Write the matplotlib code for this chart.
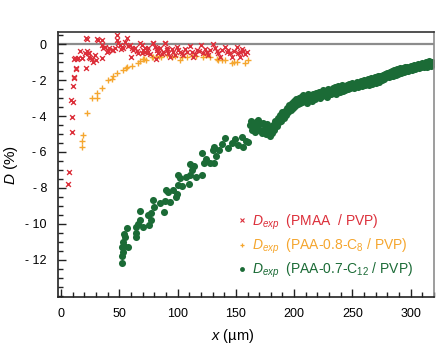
import matplotlib
matplotlib.use('Agg')
import matplotlib.pyplot as plt
from matplotlib.ticker import MultipleLocator
from matplotlib.lines import Line2D

plt.rcParams['font.family'] = ['Liberation Sans', 'DejaVu Sans']
plt.rcParams['mathtext.fontset'] = 'custom'
plt.rcParams['mathtext.it'] = 'Liberation Sans:italic'
plt.rcParams['mathtext.rm'] = 'Liberation Sans'

# ---- data ----
red_x = [6.3, 6.9, 8.6, 9.7, 9.7, 10.3, 10.6, 11.2, 11.5, 11.2, 12.0, 12.6, 13.2, 13.5, 14.9, 16.3,
         17.8, 18.3, 20.6, 21.2, 21.5, 22.0, 22.6, 23.4, 24.3, 24.3, 24.9, 26.3, 27.7, 29.2, 29.8,
         31.2, 32.0, 34.9, 34.9, 35.5, 36.3, 37.8, 39.2, 40.6, 41.5, 43.5, 44.9, 46.0, 47.8, 48.3,
         49.2, 50.6, 51.5, 52.1, 53.5, 54.8, 56.4, 57.5, 59.2, 59.8, 60.7, 62.1, 63.5, 65.0, 66.2,
         67.8, 69.3, 69.3, 70.6, 72.1, 72.1, 73.6, 73.6, 74.9, 76.4, 78.7, 79.2, 80.7, 81.5, 82.1,
         82.1, 83.5, 83.5, 85.0, 86.4, 87.8, 89.3, 89.3, 90.7, 90.7, 92.1, 93.6, 95.0, 96.4, 97.8,
         99.3, 100.5, 102.1, 103.6, 105.0, 106.5, 108.0, 110.7, 112.2, 113.6, 115.0, 116.5, 118.3,
         120.2, 122.1, 123.5, 125.0, 126.4, 128.0, 130.7, 132.2, 133.5, 135.0, 136.5, 138.0, 140.8,
         142.0, 143.6, 145.1, 146.5, 148.0, 150.8, 152.2, 153.6, 153.6, 155.1, 156.5, 158.0, 159.5]
red_y = [-7.8, -7.1, -3.1, -4.87, -4.04, -2.33, -3.2, -1.85, -1.9, -0.85, -0.8, -1.35, -1.4, -0.81, -0.8, -0.37,
         -0.76, -0.8, -0.52, -1.35, 0.32, 0.28, -0.37, -0.52, -0.52, -0.7, -0.8, -0.83, -1.0, -0.61, -0.89,
         0.26, 0.24, 0.22, -0.8, -0.06, -0.24, -0.15, -0.43, -0.37, -0.2, -0.33, -0.33, -0.2, 0.48, 0.22,
         0.04, -0.06, -0.3, -0.15, -0.24, 0.1, 0.32, -0.1, -0.06, -0.74, -0.24, -0.33, -0.24, -0.4, -0.5,
         0.04, -0.48, -0.06, -0.33, -0.43, -0.2, -0.33, -0.52, -0.24, -0.56, 0.07, 0.07, -0.15, -0.85, -0.33,
         -0.24, -0.48, -0.52, -0.24, -0.56, -0.43, 0.04, 0.07, -0.24, -0.33, -0.52, -0.7, -0.3, -0.43, -0.6,
         -0.15, -0.35, -0.43, -0.52, -0.61, -0.3, -0.45, -0.11, -0.43, -0.7, -0.55, -0.33, -0.4,
         -0.06, -0.52, -0.3, -0.43, -0.61, -0.35, 0.0, -0.24, -0.4, -0.52, -0.7, -0.35, -0.15,
         -0.45, -0.33, -0.52, -0.7, -0.4, -0.15, -0.52, -0.43, -0.7, -0.29, -0.37, -0.55, -0.45]

orange_x = [17.8, 17.8, 18.6, 22.1, 26.4, 30.6, 30.6, 35.5, 40.6, 43.5, 44.3, 48.3, 53.5, 55.8, 56.9,
            60.7, 65.8, 67.8, 70.6, 71.2, 73.0, 77.9, 79.2, 81.5, 84.4, 86.0, 90.7, 95.0, 98.0, 102.1,
            103.6, 108.0, 112.2, 116.0, 122.1, 124.0, 128.0, 133.6, 135.0, 138.0, 140.8, 146.5, 148.0,
            150.8, 157.9, 160.8]
orange_y = [-5.74, -5.37, -5.06, -3.82, -3.02, -3.02, -2.74, -2.46, -2.0, -1.96, -1.78, -1.63, -1.44, -1.35, -1.26,
            -1.22, -1.04, -0.93, -0.85, -0.85, -0.89, -0.7, -0.74, -0.74, -0.67, -0.7, -0.61, -0.72, -0.68, -0.89,
            -0.74, -0.7, -0.67, -0.68, -0.7, -0.6, -0.72, -0.85, -0.89, -0.88, -0.89, -1.04, -1.0,
            -0.98, -1.04, -0.89]

green_x = [52.1, 52.6, 53.2, 52.1, 54.4, 53.5, 57.8, 54.9, 54.4, 56.7, 64.1, 64.7, 64.1, 65.8, 67.5,
           70.4, 68.1, 75.5, 75.0, 77.3, 77.3, 79.6, 79.0, 85.2, 88.1, 89.3, 89.9, 93.8, 91.6, 96.1,
           99.0, 99.6, 100.7, 100.2, 104.2, 102.4, 107.0, 109.9, 110.5, 112.2, 111.0, 113.9, 115.6,
           120.8, 120.8, 123.0, 124.7, 127.6, 131.1, 131.1, 130.7, 133.0, 135.5, 138.0, 140.8, 143.0,
           146.5, 149.0, 152.0, 155.1, 156.5, 158.5, 160.8, 162.2,
           163, 164, 165, 166, 167, 168, 169, 170, 171, 172,
           173, 174, 175, 176, 177, 178, 179, 180, 181, 182,
           183, 184, 185, 186, 187, 188, 189, 190, 191, 192,
           193, 194, 195, 196, 197, 198, 199, 200, 201, 202,
           203, 204, 205, 206, 207, 208, 209, 210, 211, 212,
           213, 214, 215, 216, 217, 218, 219, 220, 221, 222,
           223, 224, 225, 226, 227, 228, 229, 230, 231, 232,
           233, 234, 235, 236, 237, 238, 239, 240, 241, 242,
           243, 244, 245, 246, 247, 248, 249, 250, 251, 252,
           253, 254, 255, 256, 257, 258, 259, 260, 261, 262,
           263, 264, 265, 266, 267, 268, 269, 270, 271, 272,
           273, 274, 275, 276, 277, 278, 279, 280, 281, 282,
           283, 284, 285, 286, 287, 288, 289, 290, 291, 292,
           293, 294, 295, 296, 297, 298, 299, 300, 301, 302,
           303, 304, 305, 306, 307, 308, 309, 310, 311, 312,
           313, 314, 315, 316, 317, 318]
green_y = [-12.15, -11.78, -11.54, -11.3, -11.22, -11.0, -11.26, -10.7, -10.56, -10.24, -10.74, -10.48, -10.15, -10.0, -9.78,
           -10.15, -9.28, -10.06, -9.52, -9.78, -9.37, -9.04, -8.67, -8.85, -9.31, -8.7, -8.11, -8.76, -8.2, -8.11,
           -8.52, -8.33, -7.83, -7.28, -7.89, -7.46, -7.37, -7.78, -7.28, -7.0, -6.67, -6.78, -7.37,
           -7.28, -6.07, -6.63, -6.41, -6.63, -5.7, -6.63, -5.9, -6.2, -5.9, -5.55, -5.24, -5.8,
           -5.52, -5.3, -5.6, -5.15, -5.7, -5.4, -5.43, -4.5,
           -4.3, -4.75, -4.5, -4.9, -4.35, -4.65, -4.2, -4.8, -4.45, -4.95,
           -4.4, -4.75, -4.55, -5.0, -4.45, -4.85, -5.1, -4.6, -4.95, -4.5,
           -4.75, -4.3, -4.55, -4.1, -4.35, -3.95, -4.25, -3.8, -4.1, -3.7,
           -3.95, -3.55, -3.8, -3.4, -3.65, -3.25, -3.55, -3.15, -3.45, -3.05,
           -3.35, -3.0, -3.3, -2.95, -3.2, -2.85, -3.15, -2.9, -3.25, -2.8,
           -3.1, -2.85, -3.15, -2.75, -3.0, -3.05, -2.7, -2.95, -2.65, -3.0,
           -2.7, -2.9, -2.55, -2.85, -2.6, -2.95, -2.5, -2.8, -2.55, -2.75,
           -2.45, -2.7, -2.4, -2.75, -2.5, -2.35, -2.65, -2.4, -2.3, -2.6,
           -2.35, -2.55, -2.25, -2.5, -2.2, -2.45, -2.3, -2.15, -2.45, -2.2,
           -2.25, -2.1, -2.4, -2.15, -2.05, -2.35, -2.1, -2.0, -2.3, -2.05,
           -1.95, -2.25, -2.0, -1.9, -2.2, -1.95, -1.85, -2.15, -1.9, -1.8,
           -2.1, -1.8, -2.0, -1.7, -1.95, -1.65, -1.85, -1.6, -1.85, -1.55,
           -1.8, -1.5, -1.75, -1.45, -1.7, -1.4, -1.65, -1.45, -1.35, -1.6,
           -1.35, -1.55, -1.3, -1.5, -1.25, -1.5, -1.3, -1.2, -1.45, -1.25,
           -1.15, -1.4, -1.2, -1.1, -1.35, -1.15, -1.3, -1.05, -1.25, -1.1,
           -1.0, -1.25, -1.05, -0.95, -1.2, -1.0]

series_labels = [r'$D_{exp}$  (PMAA  / PVP)',
                 r'$D_{exp}$  (PAA-0.8-C$_{8}$ / PVP)',
                 r'$D_{exp}$  (PAA-0.7-C$_{12}$ / PVP)']
yticks = [0, -2, -4, -6, -8, -10, -12]
ytick_labels = ['0', '- 2', '- 4', '- 6', '- 8', '- 10', '- 12']
xticks = [0, 50, 100, 150, 200, 250, 300]

RED = '#dc2f3a'
ORANGE = '#f5a62e'
GREEN = '#1b6b36'

fig = plt.figure(figsize=(4.36, 3.47), dpi=100)
ax = fig.add_axes([58/436, 1-297/347, 376/436, 265/347])

ax.axhline(0, color='#8c8c8c', lw=1.6, zorder=1)
ax.scatter(red_x, red_y, marker='x', s=12, linewidths=1.0, color=RED, zorder=3)
ax.scatter(orange_x, orange_y, marker='+', s=18, linewidths=1.0, color=ORANGE, zorder=2)
ax.scatter(green_x, green_y, marker='o', s=26, linewidths=0, color=GREEN, zorder=2)

ax.set_xlim(-2.6, 320)
ax.set_ylim(-14.06, 0.67)
ax.set_xticks(xticks)
ax.xaxis.set_minor_locator(MultipleLocator(10))
ax.set_yticks(yticks)
ax.set_yticklabels(ytick_labels)
ax.yaxis.set_minor_locator(MultipleLocator(0.5))
ax.tick_params(which='both', direction='in', top=False, right=False, width=1, colors='#222222')
ax.tick_params(which='major', length=6, labelsize=9, pad=8)
ax.tick_params(which='minor', length=3.5)
for lab in ax.get_xticklabels() + ax.get_yticklabels():
    lab.set_color('black')

ax.spines['left'].set_color('#222222')
ax.spines['bottom'].set_color('#222222')
ax.spines['top'].set_color('#333333')
ax.spines['right'].set_color('#8c8c8c')
for s in ax.spines.values():
    s.set_linewidth(1.2)

ax.set_xlabel(r'$x$ (µm)', fontsize=10.5, labelpad=6)
ax.xaxis.set_label_coords(0.465, -0.115)
ax.set_ylabel(r'$D$ (%)', fontsize=11, labelpad=4)

handles = [Line2D([], [], ls='none', marker='x', ms=2.5, mew=0.8, color=RED),
           Line2D([], [], ls='none', marker='+', ms=3.5, mew=0.9, color=ORANGE),
           Line2D([], [], ls='none', marker='o', ms=3.5, mew=0, color=GREEN)]
leg = ax.legend(handles, series_labels, loc='upper left', bbox_to_anchor=(0.46, 0.34),
                frameon=False, fontsize=10, handlelength=0.8, handletextpad=0.3,
                labelspacing=0.35, borderaxespad=0)
for t, c in zip(leg.get_texts(), [RED, ORANGE, GREEN]):
    t.set_color(c)

fig.savefig('out.png', dpi=100)
